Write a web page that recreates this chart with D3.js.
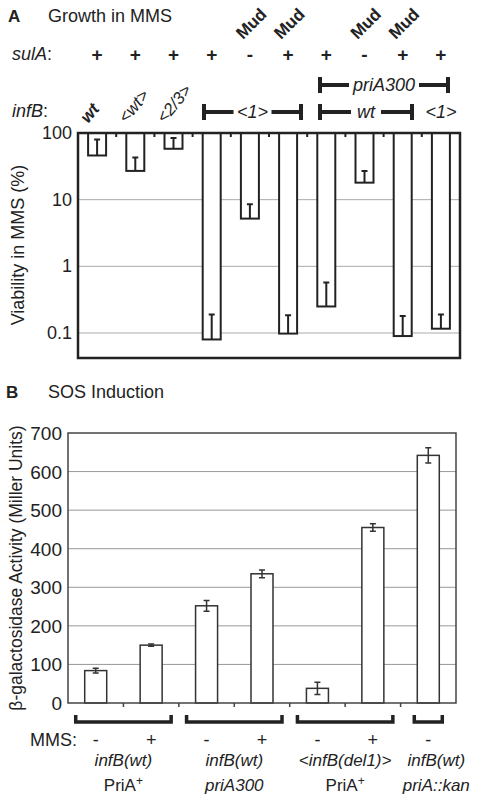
<!DOCTYPE html>
<html>
<head>
<meta charset="utf-8">
<script src="https://cdn.jsdelivr.net/npm/d3@7"></script>
<style>
  body { margin: 0; background: #fff; }
  text { font-family: "Liberation Sans", Arial, sans-serif; fill: #222; }
</style>
</head>
<body>
<svg id="chart" width="483" height="800"></svg>
<script>
// panel A data
var strainsA = ["s1", "s2", "s3", "s4", "s5", "s6", "s7", "s8", "s9", "s10"];
var viability = [46, 27, 58, 0.08, 5.2, 0.098, 0.25, 18, 0.09, 0.116];
var viabilityErr = [80, 43, 84, 0.19, 8.5, 0.185, 0.57, 27, 0.18, 0.19];
var sulA = ["+", "+", "+", "+", "-", "+", "+", "-", "+", "+"];
var mud = [false, false, false, false, true, true, false, true, true, false];
var logTicks = [100, 10, 1, 0.1];

// panel B data
var strainsB = ["b1", "b2", "b3", "b4", "b5", "b6", "b7"];
var activity = [84, 150, 252, 335, 38, 455, 642];
var activityErr = [6, 3, 14, 10, 16, 10, 20];
var mms = ["-", "+", "-", "+", "-", "+", "-"];
var groupsB = [
  { from: 0, to: 1, l1: "infB(wt)", l2: "PriA", sup: "+", it2: false },
  { from: 2, to: 3, l1: "infB(wt)", l2: "priA300", it2: true },
  { from: 4, to: 5, l1: "<infB(del1)>", l2: "PriA", sup: "+", it2: false },
  { from: 6, to: 6, l1: "infB(wt)", l2: "priA::kan", it2: true }
];
var linTicks = [0, 100, 200, 300, 400, 500, 600, 700];

var svg = d3.select("#chart");

// ---------- Panel A ----------
var xA = d3.scaleBand().domain(strainsA).range([78, 460]);
var yA = d3.scaleLog().domain([0.1, 100]).range([333, 133]);
var botA = 358;

svg.append("text").attr("x", 8).attr("y", 22).style("font-weight", "bold").style("font-size", "17px").text("A");
svg.append("text").attr("x", 48).attr("y", 22).style("font-size", "18px").text("Growth in MMS");

var gA = svg.append("g");
gA.selectAll(".grid").data(logTicks.slice(1)).enter().append("line")
  .attr("x1", 78).attr("x2", 460).attr("y1", d => yA(d)).attr("y2", d => yA(d))
  .attr("stroke", "#aaa").attr("stroke-width", 1);

gA.selectAll(".lab").data(logTicks).enter().append("text")
  .attr("x", 72).attr("y", d => yA(d) + 6).attr("text-anchor", "end")
  .style("font-size", "18px").text(d => d);

gA.selectAll(".tk").data(strainsA.slice(1)).enter().append("line")
  .attr("x1", d => xA(d)).attr("x2", d => xA(d)).attr("y1", 133).attr("y2", 137)
  .attr("stroke", "#222").attr("stroke-width", 2);

var bwA = 18;
gA.selectAll(".bar").data(strainsA).enter().append("rect")
  .attr("x", d => xA(d) + xA.bandwidth() / 2 - bwA / 2)
  .attr("y", yA(100)).attr("width", bwA)
  .attr("height", (d, i) => yA(viability[i]) - yA(100))
  .attr("fill", "#fff").attr("stroke", "#222").attr("stroke-width", 2);

gA.selectAll(".err").data(strainsA).enter().append("path")
  .attr("d", (d, i) => {
    var cx = xA(d) + xA.bandwidth() / 2, y0 = yA(viability[i]), y1 = yA(viabilityErr[i]);
    return "M" + cx + "," + y0 + "V" + y1 + "M" + (cx - 3) + "," + y1 + "H" + (cx + 3);
  })
  .attr("stroke", "#222").attr("stroke-width", 2).attr("fill", "none");

gA.append("rect").attr("x", 78).attr("y", 133).attr("width", 382).attr("height", botA - 133)
  .attr("fill", "none").attr("stroke", "#222").attr("stroke-width", 2.5);

svg.append("text").attr("transform", "translate(24," + 245 + ") rotate(-90)")
  .attr("text-anchor", "middle").style("font-size", "18px").text("Viability in MMS (%)");

// genotype rows
var cxA = d => xA(d) + xA.bandwidth() / 2;
svg.append("text").attr("x", 12).attr("y", 60).style("font-size", "18px").style("font-style", "italic").text("sulA")
  .append("tspan").style("font-style", "normal").text(":");
svg.selectAll(".sul").data(strainsA).enter().append("text")
  .attr("x", cxA).attr("y", 61).attr("text-anchor", "middle")
  .style("font-size", "19px").style("font-weight", "bold").text((d, i) => sulA[i]);
svg.selectAll(".mud").data(strainsA.filter((d, i) => mud[i])).enter().append("text")
  .attr("transform", d => "translate(" + (cxA(d) - 7) + ",40) rotate(-45)")
  .style("font-size", "17px").style("font-weight", "bold").text("Mud");

svg.append("text").attr("x", 12).attr("y", 117).style("font-size", "18px").style("font-style", "italic").text("infB")
  .append("tspan").style("font-style", "normal").text(":");
var rotLabels = [["wt", 0], ["<wt>", 1], ["<2/3>", 2]];
svg.selectAll(".rl").data(rotLabels).enter().append("text")
  .attr("transform", d => "translate(" + (cxA(strainsA[d[1]]) - 9) + ",124) rotate(-50)")
  .style("font-size", "17px").style("font-style", "italic").style("font-weight", d => d[1] === 0 ? "bold" : "normal")
  .text(d => d[0]);

function bracketA(x1, x2, y, label, lx) {
  var tw = label.length * 8 + 14;
  var mid = lx === undefined ? (x1 + x2) / 2 : lx;
  svg.append("path")
    .attr("d", "M" + x1 + "," + (y - 8) + "V" + (y + 8) + "M" + x1 + "," + y + "H" + (mid - tw / 2) +
      "M" + (mid + tw / 2) + "," + y + "H" + x2 + "M" + x2 + "," + (y - 8) + "V" + (y + 8))
    .attr("stroke", "#222").attr("stroke-width", 4).attr("fill", "none");
  svg.append("text").attr("x", mid).attr("y", y + 6).attr("text-anchor", "middle")
    .style("font-size", "18px").style("font-style", "italic").text(label);
}
bracketA(204, 301, 112, "<1>");
bracketA(320, 412, 112, "wt");
bracketA(320, 448, 85, "priA300");
svg.append("text").attr("x", cxA(strainsA[9])).attr("y", 118).attr("text-anchor", "middle")
  .style("font-size", "18px").style("font-style", "italic").text("<1>");

// ---------- Panel B ----------
var xB = d3.scaleBand().domain(strainsB).range([68, 456]);
var yB = d3.scaleLinear().domain([0, 700]).range([703, 433]);

svg.append("text").attr("x", 6).attr("y", 398).style("font-weight", "bold").style("font-size", "17px").text("B");
svg.append("text").attr("x", 48).attr("y", 398).style("font-size", "18px").text("SOS Induction");

var gB = svg.append("g");
gB.selectAll(".grid").data(linTicks.slice(1, -1)).enter().append("line")
  .attr("x1", 68).attr("x2", 456).attr("y1", d => yB(d)).attr("y2", d => yB(d))
  .attr("stroke", "#999");
gB.selectAll(".lab").data(linTicks).enter().append("text")
  .attr("x", 62).attr("y", d => yB(d) + 7).attr("text-anchor", "end")
  .style("font-size", "19px").text(d => d);
gB.selectAll(".tk").data(strainsB.slice(1)).enter().append("line")
  .attr("x1", d => xB(d)).attr("x2", d => xB(d)).attr("y1", 703).attr("y2", 707)
  .attr("stroke", "#444").attr("stroke-width", 1.5);

var bwB = 22;
gB.selectAll(".bar").data(strainsB).enter().append("rect")
  .attr("x", d => xB(d) + xB.bandwidth() / 2 - bwB / 2)
  .attr("y", (d, i) => yB(activity[i])).attr("width", bwB)
  .attr("height", (d, i) => yB(0) - yB(activity[i]))
  .attr("fill", "#fff").attr("stroke", "#333").attr("stroke-width", 1.5);
gB.selectAll(".err").data(strainsB).enter().append("path")
  .attr("d", (d, i) => {
    var cx = xB(d) + xB.bandwidth() / 2, ya = yB(activity[i] + activityErr[i]), yb = yB(activity[i] - activityErr[i]);
    return "M" + cx + "," + ya + "V" + yb + "M" + (cx - 3) + "," + ya + "H" + (cx + 3) + "M" + (cx - 3) + "," + yb + "H" + (cx + 3);
  })
  .attr("stroke", "#333").attr("stroke-width", 1.5).attr("fill", "none");

gB.append("path").attr("d", "M68,433H456V703H68Z").attr("fill", "none").attr("stroke", "#444").attr("stroke-width", 1.5);

svg.append("text").attr("transform", "translate(22,568) rotate(-90)")
  .attr("text-anchor", "middle").style("font-size", "17.5px").text("β-galactosidase Activity (Miller Units)");

// MMS row and groups
var cxB = d => xB(d) + xB.bandwidth() / 2;
svg.append("text").attr("x", 30).attr("y", 746).style("font-size", "18px").text("MMS:");
svg.selectAll(".mms").data(strainsB).enter().append("text")
  .attr("x", cxB).attr("y", 746).attr("text-anchor", "middle").style("font-size", "18px").text((d, i) => mms[i]);

groupsB.forEach(g => {
  var x1 = cxB(strainsB[g.from]) - (g.from === g.to ? 14 : 20);
  var x2 = cxB(strainsB[g.to]) + (g.from === g.to ? 14 : 20);
  svg.append("path").attr("d", "M" + x1 + ",715V722H" + x2 + "V715")
    .attr("stroke", "#222").attr("stroke-width", 3.5).attr("fill", "none");
  var mid = (cxB(strainsB[g.from]) + cxB(strainsB[g.to])) / 2;
  if (g.from === g.to) mid += 8;
  svg.append("text").attr("x", mid).attr("y", 766).attr("text-anchor", "middle")
    .style("font-size", "17px").style("font-style", "italic").text(g.l1);
  var t = svg.append("text").attr("x", mid).attr("y", 791).attr("text-anchor", "middle")
    .style("font-size", "17px").style("font-style", g.it2 ? "italic" : "normal").text(g.l2);
  if (g.sup) t.append("tspan").attr("dy", -6).style("font-size", "12px").text(g.sup);
});
</script>
</body>
</html>
